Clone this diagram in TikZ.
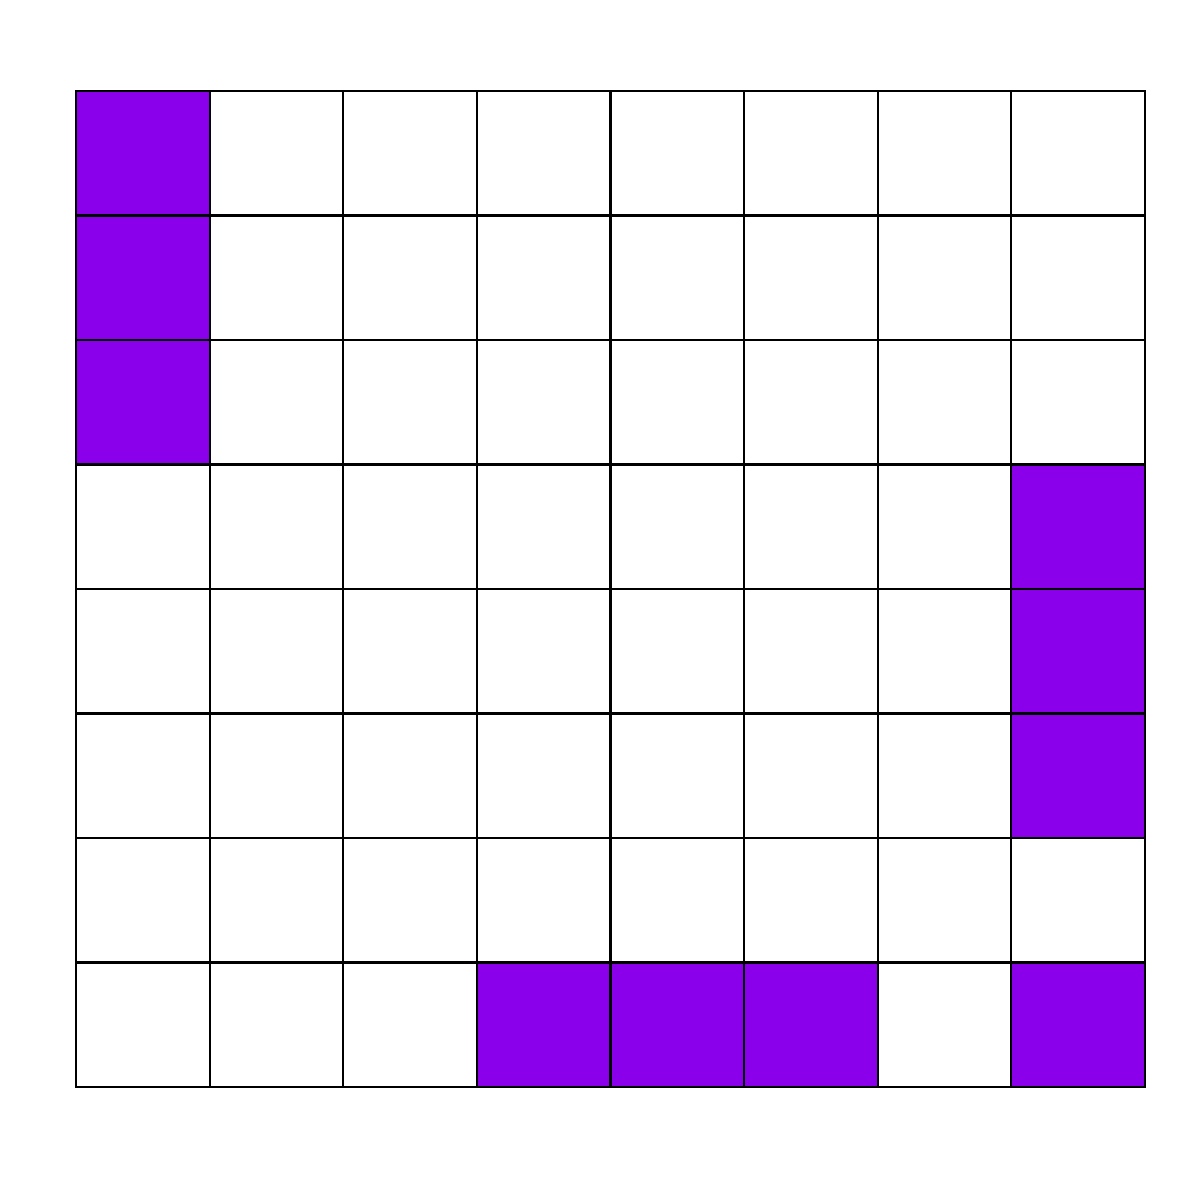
\documentclass[tikz,border=0pt]{standalone}
\definecolor{cellpurple}{HTML}{8B00EB}
\begin{document}
\begin{tikzpicture}[x=0.01cm,y=-0.01cm,
  cell/.style={draw=black,line width=0.6pt,fill=white},
  filled/.style={draw=black,line width=0.6pt,fill=cellpurple}]
\useasboundingbox (0,0) rectangle (1200,1200);
\def\xa{76}\def\ya{91}\def\cw{133.625}\def\ch{124.5}
\foreach \r in {0,...,7}{
  \foreach \c in {0,...,7}{
    \draw[cell] ({\xa+\c*\cw},{\ya+\r*\ch}) rectangle ++(\cw,\ch);
  }
}
\foreach \r/\c in {0/0,1/0,2/0,3/7,4/7,5/7,7/3,7/4,7/5,7/7}{
  \draw[filled] ({\xa+\c*\cw},{\ya+\r*\ch}) rectangle ++(\cw,\ch);
}
\end{tikzpicture}
\end{document}
